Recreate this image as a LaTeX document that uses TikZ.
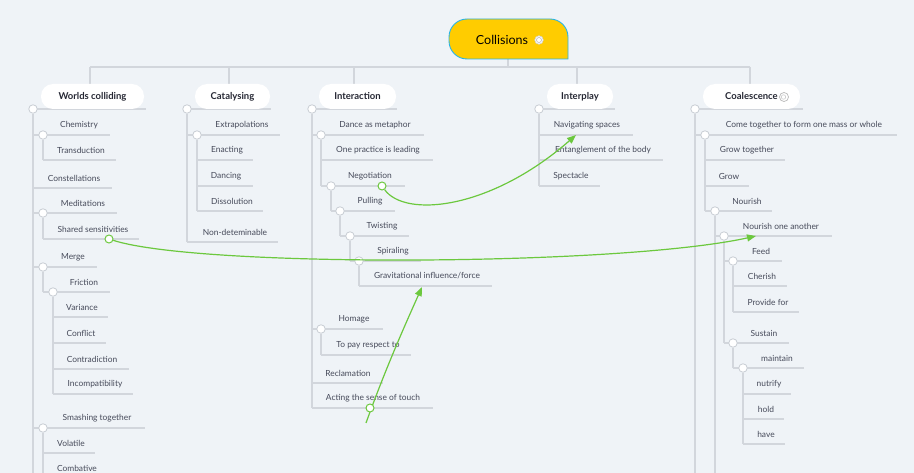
\documentclass[tikz,border=0pt]{standalone}
\usepackage{fontspec}
\setmainfont{Lato}
\usetikzlibrary{arrows.meta}
\definecolor{bgc}{RGB}{239,243,247}
\definecolor{linec}{RGB}{210,214,220}
\definecolor{knobc}{RGB}{200,205,212}
\definecolor{txtc}{RGB}{70,74,90}
\definecolor{hdrc}{RGB}{38,40,52}
\definecolor{relc}{RGB}{108,200,62}
\definecolor{rootc}{RGB}{255,204,0}
\definecolor{rootb}{RGB}{40,180,230}
\pgfdeclarelayer{bgfill}
\pgfdeclarelayer{lines}
\pgfsetlayers{bgfill,lines,main}
\tikzset{
  br/.style={draw=linec, line width=1.1pt},
  txt/.style={inner sep=0pt, text=txtc, font=\fontsize{8.4}{10}\selectfont},
  hdr/.style={fill=white, rounded corners=12pt, minimum height=25pt, inner sep=0pt,
    text=hdrc, font=\bfseries\fontsize{9.5}{11}\selectfont},
  knob/.style={circle, fill=white, draw=knobc, line width=0.8pt, minimum size=8.5pt, inner sep=0pt},
  gknob/.style={circle, fill=white, draw=relc, line width=1pt, minimum size=8pt, inner sep=0pt},
  rel/.style={draw=relc, line width=1.2pt, -{Triangle[length=9pt,width=7pt]}},
}
\newcommand\tp[6]{%
  \coordinate (#1-s) at (#2,#4);
  \coordinate (#1-e) at (#3,#4);
  \begin{pgfonlayer}{lines}\draw[br] (#1-s) -- (#1-e);\end{pgfonlayer}
  \node[txt] (#1) at (#5,#4-10) {#6};}
\newcommand\vl[2]{\begin{pgfonlayer}{lines}\draw[br] (#1) -- (#2);\end{pgfonlayer}}
\begin{document}
\begin{tikzpicture}[x=1pt,y=-1pt]
\begin{pgfonlayer}{bgfill}
\fill[bgc] (0,0) rectangle (914,473);
\end{pgfonlayer}
\useasboundingbox (0,0) rectangle (914,473);

% root
\draw[fill=rootc, draw=rootb, line width=0.9pt] (568,59) [rounded corners=18pt] -- (449,59) -- (449,19) -- (568,19) [sharp corners] -- cycle;
\node[inner sep=0pt, font=\fontsize{12.5}{14}\selectfont, text=black] (root) at (502,40) {Collisions};
\node[circle, fill=white, draw=gray!35, line width=0.6pt, minimum size=8.5pt, inner sep=0pt] (ricon) at (539,40) {};
\node[circle, draw=gray!55, line width=0.6pt, minimum size=5pt, inner sep=0pt] (ricon2) at (539,40) {};
\coordinate (root-b) at (508,59);
\coordinate (hub) at (508,67);
\coordinate (hv1) at (90,67);
\coordinate (hv2) at (229,67);
\coordinate (hv3) at (354,67);
\coordinate (hv4) at (577,67);
\coordinate (hv5) at (750,67);

% headers
\node[hdr, minimum width=103pt] (h1) at (92.5,96.5) {Worlds colliding};
\node[hdr, minimum width=75pt] (h2) at (232.5,96.5) {Catalysing};
\node[hdr, minimum width=77pt] (h3) at (357.5,96.5) {Interaction};
\node[hdr, minimum width=66pt] (h4) at (580,96.5) {Interplay};
\node[hdr, minimum width=97pt] (h5) at (751.5,96.5) {Coalescence\hspace{13pt}};
\node[circle, draw=gray!55, line width=0.7pt, minimum size=9pt, inner sep=0pt] (cicon) at (784,97) {};
\node[circle, draw=gray!40, line width=0.6pt, minimum size=4.5pt, inner sep=0pt] (cicon2) at (783.5,97) {};

\begin{pgfonlayer}{lines}
\draw[br] (root-b) -- (hub);
\draw[br] (hv1) -- (hv5);
\draw[br] (hv1) -- (hv1 |- h1.north);
\draw[br] (hv2) -- (hv2 |- h2.north);
\draw[br] (hv3) -- (hv3 |- h3.north);
\draw[br] (hv4) -- (hv4 |- h4.north);
\draw[br] (hv5) -- (hv5 |- h5.north);
\draw[br] (33,109) coordinate (h1-s) -- (146,109) coordinate (h1-e);
\draw[br] (187,109) coordinate (h2-s) -- (271,109) coordinate (h2-e);
\draw[br] (312,109) coordinate (h3-s) -- (397,109) coordinate (h3-e);
\draw[br] (539,109) coordinate (h4-s) -- (615,109) coordinate (h4-e);
\draw[br] (695,109) coordinate (h5-s) -- (803,109) coordinate (h5-e);
\end{pgfonlayer}

% column 1
\node[knob] (k1) at (33,109) {};
\tp{chem}{33}{110}{135}{79}{Chemistry}
\node[knob] (kchem) at (43,135) {};
\tp{trans}{43}{116}{160}{81}{Transduction}
\vl{kchem}{trans-s}
\tp{const}{33}{112}{188}{74}{Constellations}
\tp{medit}{33}{117}{213}{83}{Meditations}
\node[knob] (kmedit) at (43,213) {};
\tp{shared}{43}{139}{239}{93}{Shared sensitivities}
\vl{kmedit}{shared-s}
\tp{merge}{33}{97}{267}{73}{Merge}
\node[knob] (kmerge) at (43,267) {};
\tp{fric}{43}{110}{292}{84}{Friction}
\vl{kmerge}{fric-s}
\node[knob] (kfric) at (53,292) {};
\tp{var}{53}{108}{317}{82}{Variance}
\tp{confl}{53}{106}{343}{81}{Conflict}
\tp{contra}{53}{129}{369}{92}{Contradiction}
\tp{incomp}{53}{133}{394}{95}{Incompatibility}
\vl{kfric}{incomp-s}
\tp{smash}{33}{145}{428}{97}{Smashing together}
\node[knob] (ksmash) at (43,428) {};
\tp{vol}{43}{95}{453}{71}{Volatile}
\tp{comb}{43}{100}{478}{77}{Combative}
\coordinate (c1bot) at (33,475);
\coordinate (c1bot2) at (43,475);
\vl{k1}{c1bot}
\vl{ksmash}{c1bot2}

% column 2
\node[knob] (k2) at (187,109) {};
\tp{extra}{187}{280}{135}{242}{Extrapolations}
\node[knob] (kextra) at (197,135) {};
\tp{enact}{197}{253}{160}{227}{Enacting}
\tp{danc}{197}{253}{186}{226}{Dancing}
\tp{diss}{197}{263}{211}{232}{Dissolution}
\vl{kextra}{diss-s}
\tp{nondet}{187}{278}{242}{235}{Non-deteminable}
\vl{k2}{nondet-s}

% column 3
\node[knob] (k3) at (312,109) {};
\tp{dance}{312}{424}{135}{375}{Dance as metaphor}
\node[knob] (kdance) at (321,135) {};
\tp{onep}{321}{433}{160}{378}{One practice is leading}
\tp{nego}{321}{405}{186}{370}{Negotiation}
\vl{kdance}{nego-s}
\node[knob] (knego) at (331,186) {};
\tp{pull}{331}{395}{211}{370}{Pulling}
\vl{knego}{pull-s}
\node[knob] (kpull) at (340,211) {};
\tp{twist}{340}{409}{236}{382}{Twisting}
\vl{kpull}{twist-s}
\node[knob] (ktwist) at (350,236) {};
\tp{spir}{350}{421}{261}{393}{Spiraling}
\vl{ktwist}{spir-s}
\node[knob] (kspir) at (359,261) {};
\tp{grav}{359}{492}{286}{427}{Gravitational influence/force}
\vl{kspir}{grav-s}
\tp{hom}{312}{383}{329}{354}{Homage}
\node[knob] (khom) at (321,329) {};
\tp{pay}{321}{411}{355}{368}{To pay respect to}
\vl{khom}{pay-s}
\tp{recl}{312}{383}{383}{348}{Reclamation}
\tp{act}{312}{433}{408}{373}{Acting the sense of touch}
\vl{k3}{act-s}

% column 4
\node[knob] (k4) at (539,109) {};
\tp{nav}{539}{633}{135}{587}{Navigating spaces}
\tp{ent}{539}{663}{160}{603}{Entanglement of the body}
\tp{spec}{539}{600}{186}{571}{Spectacle}
\vl{k4}{spec-s}

% column 5
\node[knob] (k5) at (695,109) {};
\tp{come}{695}{897}{135}{804}{Come together to form one mass or whole}
\node[knob] (kcome) at (705,135) {};
\tp{growt}{705}{785}{160}{747}{Grow together}
\tp{grow}{705}{749}{186}{729}{Grow}
\tp{nour}{705}{772}{211}{747}{Nourish}
\vl{kcome}{nour-s}
\node[knob] (knour) at (715,211) {};
\tp{noura}{715}{832}{236}{781}{Nourish one another}
\node[knob] (knoura) at (724,236) {};
\tp{feed}{724}{782}{261}{761}{Feed}
\node[knob] (kfeed) at (733,261) {};
\tp{cher}{733}{787}{286}{762}{Cherish}
\tp{prov}{733}{799}{312}{768}{Provide for}
\vl{kfeed}{prov-s}
\tp{sust}{724}{789}{343}{764}{Sustain}
\vl{knoura}{sust-s}
\node[knob] (ksust) at (733,343) {};
\tp{maint}{733}{804}{368}{777}{maintain}
\vl{ksust}{maint-s}
\node[knob] (kmaint) at (743,368) {};
\tp{nutr}{743}{791}{394}{769}{nutrify}
\tp{hold}{743}{784}{419}{766}{hold}
\tp{have}{743}{785}{444}{766}{have}
\vl{kmaint}{have-s}
\coordinate (c5bot) at (695,475);
\coordinate (c5bot2) at (715,475);
\vl{k5}{c5bot}
\vl{knour}{c5bot2}

% relationships
\coordinate (noura-t) at (756,236);
\coordinate (nav-t) at (576,135);
\coordinate (grav-t) at (422,287);
\coordinate (act-a) at (366,423);
\node[gknob] (g1) at (109,239) {};
\draw[rel] (g1) .. controls (200,268) and (620,266) .. (noura-t);
\node[gknob] (g2) at (382,186) {};
\draw[rel] (g2) .. controls (405,218) and (490,210) .. (nav-t);
\draw[rel] (act-a) .. controls (385,370) and (405,325) .. (grav-t);
\node[gknob] (g3) at (370,408) {};
\end{tikzpicture}
\end{document}
